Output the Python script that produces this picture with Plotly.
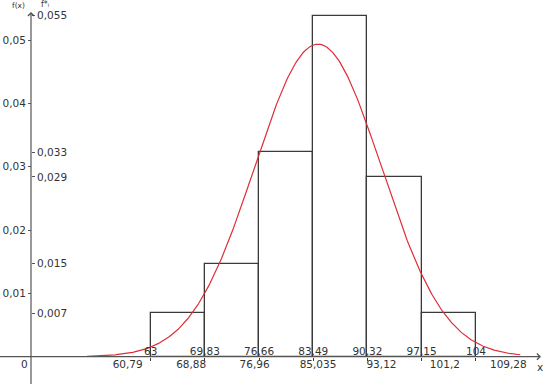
import numpy as np
import plotly.graph_objects as go

# ---------------- data ----------------
bin_edges = [63, 69.83, 76.66, 83.49, 90.32, 97.15, 104]
bin_heights = [0.007, 0.015, 0.033, 0.055, 0.029, 0.007]
edge_labels = ["63", "69,83", "76,66", "83,49", "90,32", "97,15", "104"]

mu = 85.035
sigma = 8.08
sigma_points = [60.79, 68.88, 76.96, 85.035, 93.12, 101.2, 109.28]
sigma_labels = ["60,79", "68,88", "76,96", "85,035", "93,12", "101,2", "109,28"]
curve_start, curve_end = 55.6, 110.8

fx_ticks = [0.01, 0.02, 0.03, 0.04, 0.05]
fx_tick_labels = ["0,01", "0,02", "0,03", "0,04", "0,05"]
fi_ticks = [0.007, 0.015, 0.029, 0.033, 0.055]
fi_tick_labels = ["0,007", "0,015", "0,029", "0,033", "0,055"]

# ---------------- layout constants ----------------
W, H = 547, 384
x_range = [44.006, 112.95]            # histogram frame (x)
x2_range = [44.525, 114.207]          # density-curve frame (x2)
y_hist_range = [-0.004403, 0.057532]  # histogram frame  f*_i
y_fx_range = [-0.004313, 0.056351]    # density-curve frame f(x)
axis_pos_x = 31 / W                   # y axis location (paper)
axis_pos_y = 27.3 / H                 # x axis location (paper)
FONT = "DejaVu Sans"
TXT = "#333333"
AX = "#555555"

mids = [(a + b) / 2 for a, b in zip(bin_edges[:-1], bin_edges[1:])]
widths = [b - a for a, b in zip(bin_edges[:-1], bin_edges[1:])]

xs = np.linspace(curve_start, curve_end, 400)
ys = np.exp(-0.5 * ((xs - mu) / sigma) ** 2) / (sigma * np.sqrt(2 * np.pi))

fig = go.Figure()
fig.add_trace(go.Bar(
    x=mids, y=bin_heights, width=widths,
    marker=dict(color="rgba(0,0,0,0)", line=dict(color="#3a3a3a", width=1.3)),
    xaxis="x", yaxis="y", showlegend=False, hoverinfo="skip",
))
fig.add_trace(go.Scatter(
    x=xs, y=ys, mode="lines",
    line=dict(color="rgb(222,45,55)", width=1.2),
    xaxis="x2", yaxis="y2", showlegend=False, hoverinfo="skip",
))

tickfont = dict(family=FONT, size=10.5, color=TXT)
common = dict(showgrid=False, zeroline=False, showline=False, automargin=False,
              fixedrange=True)

fig.update_layout(
    width=W, height=H,
    margin=dict(l=0, r=0, t=0, b=0),
    paper_bgcolor="white", plot_bgcolor="white",
    bargap=0,
    xaxis=dict(domain=[0, 1], range=x_range, side="top", anchor="free",
               position=axis_pos_y, tickmode="array", tickvals=bin_edges,
               ticktext=edge_labels, ticks="inside", ticklen=3,
               tickcolor="#3a3a3a", tickfont=tickfont, **common),
    xaxis2=dict(overlaying="x", range=x2_range, side="bottom", anchor="free",
                position=axis_pos_y, tickmode="array", tickvals=sigma_points,
                ticktext=sigma_labels, ticks="", tickfont=tickfont, **common),
    yaxis=dict(domain=[0, 1], range=y_hist_range, side="right", anchor="free",
               position=axis_pos_x, tickmode="array", tickvals=fi_ticks,
               ticktext=fi_tick_labels, ticks="outside", ticklen=3,
               tickcolor=AX, tickfont=tickfont, **common),
    yaxis2=dict(overlaying="y", range=y_fx_range, side="left", anchor="free",
                position=axis_pos_x, tickmode="array", tickvals=fx_ticks,
                ticktext=fx_tick_labels, ticks="outside", ticklen=3,
                tickcolor=AX, tickfont=tickfont, **common),
)

x_at = lambda p: x_range[0] + p / W * (x_range[1] - x_range[0])
y_at = lambda p: y_hist_range[1] - p / H * (y_hist_range[1] - y_hist_range[0])

# axis lines with arrow heads
fig.add_annotation(x=x_at(541), y=0, ax=x_at(-2), ay=0, xref="x", yref="y",
                   axref="x", ayref="y", text="", showarrow=True,
                   arrowhead=4, arrowsize=1, arrowwidth=1.2, arrowcolor=AX,
                   standoff=0)
fig.add_annotation(x=x_at(31), y=y_at(12), ax=x_at(31), ay=y_at(386),
                   xref="x", yref="y", axref="x", ayref="y", text="",
                   showarrow=True, arrowhead=4, arrowsize=1, arrowwidth=1.2,
                   arrowcolor=AX, standoff=0)

def label(text, px_x, px_y, size=10.5):
    fig.add_annotation(x=px_x / W, y=1 - px_y / H, xref="paper", yref="paper",
                       text=text, showarrow=False, xanchor="center",
                       yanchor="middle", font=dict(family=FONT, size=size, color=TXT))

label("0", 24, 364)
label("x", 540, 367)
label("f(x)", 18, 5, size=7.5)
label("f*ᵢ", 45, 4.5, size=8)

fig.write_html("out.html")
